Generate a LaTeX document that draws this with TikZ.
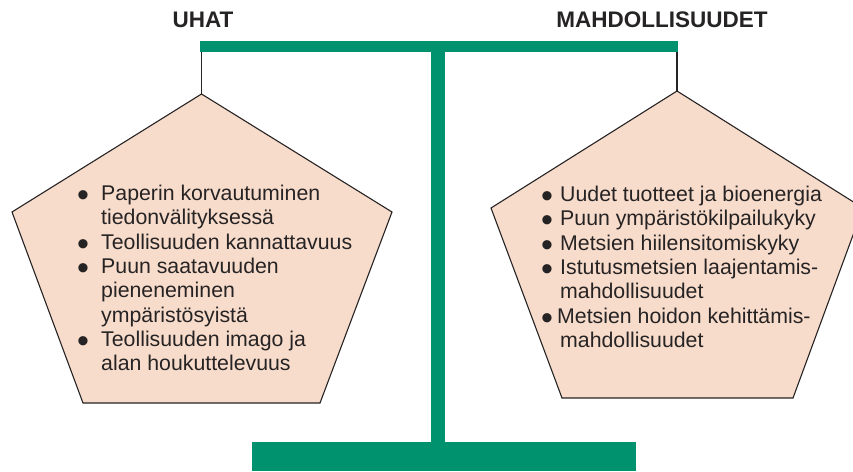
\documentclass[tikz,border=0pt]{standalone}
\usepackage{fontspec}
\setmainfont{Liberation Sans}
\usepackage{tikz}
\usetikzlibrary{positioning,calc}

\definecolor{scalegreen}{HTML}{00926F}
\definecolor{peach}{HTML}{F8DCCB}
\definecolor{ink}{HTML}{262324}

\newlength{\bulw}
\newcommand{\bul}[1][\bulw]{\makebox[#1][l]{\raisebox{-6pt}{\fontsize{34}{34}\selectfont\textbullet}}}
\newcommand{\cont}{\hspace*{\bulw}}

\begin{document}
\begin{tikzpicture}[x=1pt, y=-1pt,
    beam/.style={fill=scalegreen},
    pan/.style={draw=ink, line width=1.1pt, fill=peach, line join=miter},
    hang/.style={draw=ink, line width=1.1pt},
    heading/.style={font=\fontsize{22.5}{26}\selectfont\bfseries, text=ink},
    itemlist/.style={font=\fontsize{21.3}{24.3}\selectfont, text=ink, align=left, inner sep=0pt, anchor=north west}]
    \useasboundingbox (0,0) rectangle (853,471);
    \clip (0,0) rectangle (853,471);

    % Headings
    \node[heading] (uhat) at (203,20) {UHAT};
    \node[heading] (mahd) at (662,20) {MAHDOLLISUUDET};

    % Beam, post and base
    \fill[beam] (200,41) rectangle (678,52);
    \fill[beam] (431,52) rectangle (445,443);
    \fill[beam] (252,442) rectangle (636,471);
    \coordinate (beamL) at (201.5,52);
    \coordinate (beamR) at (677,52);

    % Left pan
    \coordinate (panL) at (201.5,94);
    \draw[pan] (panL) -- (392,212) -- (320,403) -- (83,403) -- (12,212) -- cycle;

    % Right pan
    \coordinate (panR) at (677,91);
    \draw[pan] (panR) -- (863,208) -- (793,398) -- (562,398) -- (491,208) -- cycle;

    % Hangers
    \draw[hang] (beamL) -- (panL);
    \draw[hang] (beamR) -- (panR);

    % Texts
    \global\bulw=24pt
    \node[itemlist] (threats) at (77,185) {%
        \bul Paperin korvautuminen\\
        \cont tiedonvälityksessä\\
        \bul Teollisuuden kannattavuus\\
        \bul Puun saatavuuden\\
        \cont pieneneminen\\
        \cont ympäristösyistä\\
        \bul Teollisuuden imago ja\\
        \cont alan houkuttelevuus};
    \global\bulw=19pt
    \node[itemlist] (chances) at (541,186) {%
        \bul Uudet tuotteet ja bioenergia\\
        \bul Puun ympäristökilpailukyky\\
        \bul Metsien hiilensitomiskyky\\
        \bul Istutusmetsien laajentamis-\\
        \cont mahdollisuudet\\
        \bul[16pt]Metsien hoidon kehittämis-\\
        \cont mahdollisuudet};
\end{tikzpicture}
\end{document}
